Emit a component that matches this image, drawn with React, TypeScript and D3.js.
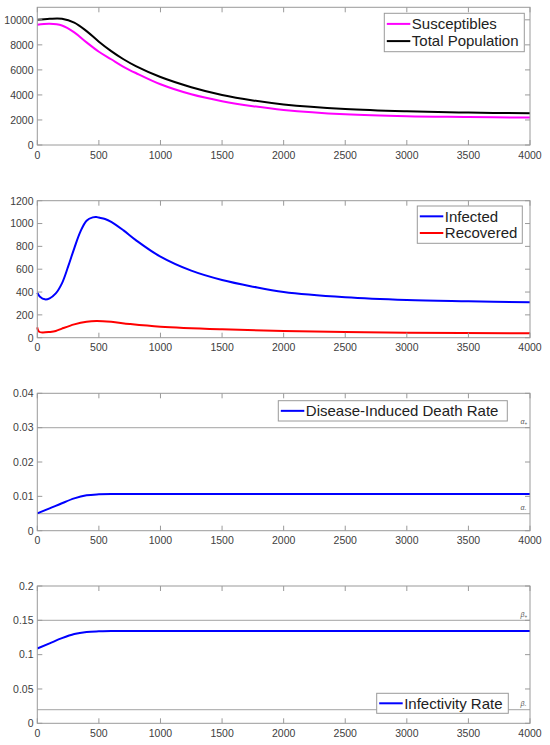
import React from "react";
import * as d3 from "d3";

// ---- data ----
const xTicks = [0, 500, 1000, 1500, 2000, 2500, 3000, 3500, 4000];

const popT = [0, 100, 200, 300, 400, 500, 600, 700, 800, 1000, 1250, 1500, 1750, 2000, 2500, 3000, 3500, 4000];
const totalPop = [10000, 10080, 10080, 9780, 9100, 8250, 7500, 6850, 6300, 5430, 4620, 4000, 3560, 3240, 2880, 2693, 2587, 2533];
const susceptT = [0, 100, 200, 300, 400, 500, 600, 700, 800, 1000, 1250, 1500, 1750, 2000, 2500, 3000, 3500, 4000];
const susceptibles = [9600, 9680, 9550, 9000, 8200, 7450, 6850, 6250, 5750, 4850, 4050, 3500, 3100, 2800, 2453, 2293, 2240, 2187];

const infT = [0, 22, 62, 100, 150, 200, 250, 300, 350, 400, 450, 480, 500, 550, 600, 700, 800, 1000, 1250, 1500, 1750, 2000, 2500, 3000, 3500, 4000];
const infected = [394, 359, 336, 345, 388, 476, 622, 783, 929, 1025, 1054, 1057, 1052, 1040, 1015, 940, 855, 710, 587, 505, 447, 400, 354, 330, 319, 310];
const recT = [0, 5, 15, 40, 100, 150, 200, 300, 400, 480, 600, 750, 1000, 1500, 2000, 2500, 3000, 4000];
const recovered = [91, 68, 52, 45, 50, 59, 80, 117, 140, 146, 139, 120, 96, 73, 59, 50, 44, 38];

const alphaT = [0, 100, 200, 300, 400, 500, 600, 4000];
const deathRate = [0.00505, 0.0065, 0.008, 0.0094, 0.0103, 0.0106, 0.0107, 0.0107];
const alphaBounds = [0.03, 0.005];

const betaT = [0, 100, 200, 300, 400, 500, 600, 4000];
const infectivity = [0.109, 0.1165, 0.124, 0.13, 0.133, 0.134, 0.1345, 0.1345];
const betaBounds = [0.15, 0.02];

const yTicks1 = [0, 2000, 4000, 6000, 8000, 10000];
const yTicks2 = [0, 200, 400, 600, 800, 1000, 1200];
const yTicks3 = [0, 0.01, 0.02, 0.03, 0.04];
const yTickLabels3 = ["0", "0.01", "0.02", "0.03", "0.04"];
const yTicks4 = [0, 0.05, 0.1, 0.15, 0.2];
const yTickLabels4 = ["0", "0.05", "0.1", "0.15", "0.2"];

// ---- layout ----
const W = 550;
const H = 745;
const X0 = 37.3;
const X1 = 530;
const FONT = "'Liberation Sans', Arial, Helvetica, sans-serif";
const AXIS = "#9a9a9a";
const TXT = "#404040";
const REF = "#b5b5b5";

type Series = { t: number[]; v: number[]; color: string; label: string };
type Legend = { x: number; y: number; w: number; h: number };
type Bound = { v: number; sym: string; sub: string };

const x = d3.scaleLinear().domain([0, 4000]).range([X0, X1]);

function Panel(props: {
  top: number;
  bottom: number;
  yMax: number;
  yTicks: number[];
  yLabels?: string[];
  series: Series[];
  legend: Legend;
  bounds?: Bound[];
  smooth?: boolean;
}) {
  const { top, bottom, yMax, yTicks, yLabels, series, legend, bounds, smooth } = props;
  const y = d3.scaleLinear().domain([0, yMax]).range([bottom, top]);
  const tl = 5;
  const rowH = series.length > 1 ? (legend.h - 4) / series.length : legend.h;
  const curve = smooth ? d3.curveCatmullRom.alpha(0.5) : d3.curveMonotoneX;
  return (
    <g>
      {bounds &&
        bounds.map((b, i) => (
          <g key={"b" + i}>
            <line x1={X0} x2={X1} y1={y(b.v)} y2={y(b.v)} stroke={REF} strokeWidth={1.2} />
            <text x={520.5} y={y(b.v) - 3.5} fontFamily={FONT} fontSize={7} fontStyle="italic" fill="#555">
              {b.sym}
              <tspan fontSize={4.5} dy={1}>{b.sub}</tspan>
            </text>
          </g>
        ))}
      {series.map((s, i) => {
        const pts: [number, number][] = s.t.map((t, j) => [t, s.v[j]]);
        const path = d3
          .line<[number, number]>()
          .x((d) => x(d[0]))
          .y((d) => y(d[1]))
          .curve(curve)(pts);
        return <path key={"s" + i} d={path || ""} fill="none" stroke={s.color} strokeWidth={2} />;
      })}
      <rect x={X0} y={top} width={X1 - X0} height={bottom - top} fill="none" stroke={AXIS} strokeWidth={1} />
      {xTicks.map((t) => (
        <g key={"x" + t}>
          <line x1={x(t)} x2={x(t)} y1={bottom} y2={bottom - tl} stroke={AXIS} />
          <line x1={x(t)} x2={x(t)} y1={top} y2={top + tl} stroke={AXIS} />
          <text x={x(t)} y={bottom + 13.5} textAnchor="middle" fontFamily={FONT} fontSize={10.5} fill={TXT}>
            {t}
          </text>
        </g>
      ))}
      {yTicks.map((v, i) => (
        <g key={"y" + i}>
          <line x1={X0} x2={X0 + tl} y1={y(v)} y2={y(v)} stroke={AXIS} />
          <line x1={X1} x2={X1 - tl} y1={y(v)} y2={y(v)} stroke={AXIS} />
          <text x={33.5} y={y(v) + 3.8} textAnchor="end" fontFamily={FONT} fontSize={10.5} fill={TXT}>
            {yLabels ? yLabels[i] : String(v)}
          </text>
        </g>
      ))}
      <rect x={legend.x} y={legend.y} width={legend.w} height={legend.h} fill="#fff" stroke={AXIS} strokeWidth={1} />
      {series.map((s, i) => {
        const cy = series.length > 1 ? legend.y + 2 + rowH * (i + 0.5) : legend.y + legend.h / 2;
        return (
          <g key={"l" + i}>
            <line x1={legend.x + 2.5} x2={legend.x + 26} y1={cy} y2={cy} stroke={s.color} strokeWidth={2} />
            <text x={legend.x + 27.5} y={cy + 5.2} fontFamily={FONT} fontSize={15} fill="#222">
              {s.label}
            </text>
          </g>
        );
      })}
    </g>
  );
}

export default function App() {
  return (
    <svg width={W} height={H} style={{ position: "absolute", left: 0, top: 0, background: "#fff" }}>
      <Panel
        top={7.3}
        bottom={145}
        yMax={11000}
        yTicks={yTicks1}
        smooth
        series={[
          { t: susceptT, v: susceptibles, color: "#ff00ff", label: "Susceptibles" },
          { t: popT, v: totalPop, color: "#000000", label: "Total Population" },
        ]}
        legend={{ x: 384.3, y: 13.3, w: 140, h: 38.4 }}
      />
      <Panel
        top={200.7}
        bottom={337.7}
        yMax={1200}
        yTicks={yTicks2}
        smooth
        series={[
          { t: infT, v: infected, color: "#0000ff", label: "Infected" },
          { t: recT, v: recovered, color: "#ff0000", label: "Recovered" },
        ]}
        legend={{ x: 417.3, y: 206, w: 105, h: 37.3 }}
      />
      <Panel
        top={393.3}
        bottom={530.7}
        yMax={0.04}
        yTicks={yTicks3}
        yLabels={yTickLabels3}
        series={[{ t: alphaT, v: deathRate, color: "#0000ff", label: "Disease-Induced Death Rate" }]}
        legend={{ x: 278.3, y: 400.7, w: 229, h: 20.3 }}
        bounds={[
          { v: alphaBounds[0], sym: "α", sub: "+" },
          { v: alphaBounds[1], sym: "α", sub: "-" },
        ]}
      />
      <Panel
        top={586}
        bottom={723.3}
        yMax={0.2}
        yTicks={yTicks4}
        yLabels={yTickLabels4}
        series={[{ t: betaT, v: infectivity, color: "#0000ff", label: "Infectivity Rate" }]}
        legend={{ x: 376.7, y: 693.3, w: 131.6, h: 20 }}
        bounds={[
          { v: betaBounds[0], sym: "β", sub: "+" },
          { v: betaBounds[1], sym: "β", sub: "-" },
        ]}
      />
    </svg>
  );
}
